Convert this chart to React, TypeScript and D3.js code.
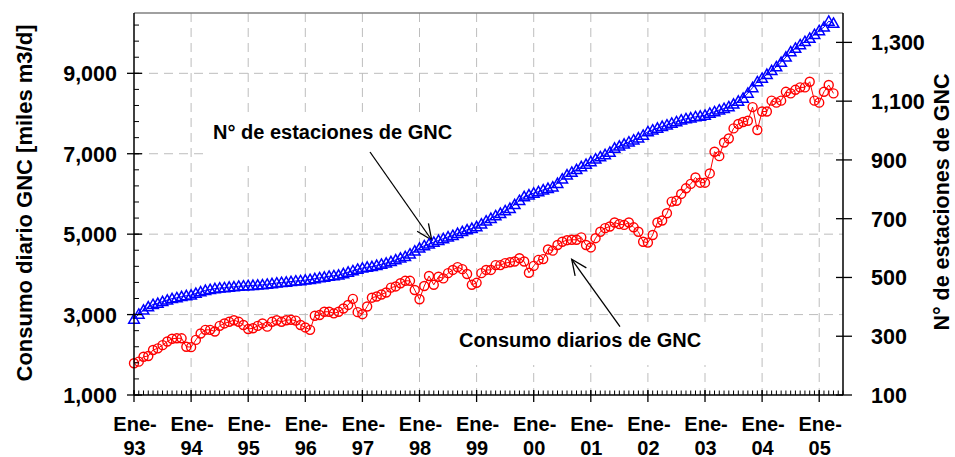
import React from 'react';
import * as d3 from 'd3';

// Categories: month index 0 = Ene-93 ... 147 = Abr-05
const yearLabels = ['93', '94', '95', '96', '97', '98', '99', '00', '01', '02', '03', '04', '05'];

// Consumo diario GNC [miles m3/d] (left axis), monthly
const consumo = [
  1790, 1830, 1950, 1970, 2120, 2160, 2240, 2330, 2400, 2410, 2410, 2200,
  2190, 2370, 2530, 2620, 2620, 2580, 2720, 2780, 2820, 2860, 2820, 2740,
  2640, 2660, 2720, 2780, 2700, 2820, 2860, 2820, 2860, 2870, 2850, 2740,
  2680, 2620, 2970, 2990, 3070, 3070, 3030, 3070, 3150, 3240, 3390, 3060,
  3010, 3200, 3420, 3450, 3500, 3550, 3670, 3700, 3780, 3840, 3840, 3610,
  3380, 3710, 3960, 3740, 3940, 3900, 4030, 4110, 4180, 4130, 4010, 3740,
  3790, 4030, 4110, 4110, 4230, 4230, 4280, 4300, 4320, 4400, 4320, 4040,
  4210, 4360, 4380, 4620, 4590, 4730, 4810, 4850, 4860, 4860, 4920, 4730,
  4670, 4900, 5060, 5150, 5190, 5290, 5250, 5230, 5290, 5170, 5060, 4810,
  4790, 4980, 5290, 5340, 5520, 5810, 5830, 6000, 6140, 6250, 6410, 6280,
  6280, 6510, 7050, 6940, 7280, 7380, 7630, 7740, 7790, 7820, 8160, 7590,
  8050, 8050, 8320, 8270, 8320, 8540, 8500, 8590, 8650, 8650, 8790, 8320,
  8270, 8540, 8710, 8500,
];

// N° de estaciones de GNC (right axis), monthly
const estaciones = [
  358, 375, 389, 400, 408, 412, 418, 423, 428, 431, 435, 438,
  440, 446, 451, 456, 459, 462, 464, 465, 467, 468, 470, 471,
  472, 473, 474, 475, 477, 479, 481, 483, 484, 486, 488, 489,
  491, 493, 496, 499, 501, 504, 506, 508, 513, 518, 523, 528,
  532, 535, 537, 541, 545, 549, 554, 560, 566, 571, 580, 590,
  600, 608, 614, 620, 626, 632, 638, 643, 650, 656, 662, 667,
  673, 682, 692, 701, 710, 718, 727, 735, 748, 762, 775, 781,
  787, 792, 798, 803, 808, 820, 835, 849, 858, 867, 877, 885,
  894, 903, 911, 918, 926, 940, 947, 954, 961, 968, 975, 984,
  996, 1002, 1008, 1014, 1019, 1025, 1030, 1036, 1040, 1043, 1047, 1049,
  1052, 1059, 1064, 1070, 1075, 1081, 1090, 1100, 1110, 1127, 1146, 1166,
  1178, 1191, 1204, 1217, 1232, 1250, 1268, 1280, 1292, 1303, 1314, 1327,
  1340, 1352, 1372, 1365,
];

const leftTicks = [1000, 3000, 5000, 7000, 9000];
const rightTicks = [100, 300, 500, 700, 900, 1100, 1300];

const FONT = '"Liberation Sans", Arial, sans-serif';

function arrowHead(tipX: number, tipY: number, fromX: number, fromY: number, len = 17, angDeg = 24) {
  const a = Math.atan2(fromY - tipY, fromX - tipX);
  const d = (angDeg * Math.PI) / 180;
  return [
    [tipX + len * Math.cos(a + d), tipY + len * Math.sin(a + d)],
    [tipX + len * Math.cos(a - d), tipY + len * Math.sin(a - d)],
  ];
}

export default function App() {
  const W = 955, H = 457;
  const L = 134, R = 843, T = 13, B = 395;
  const nMonths = 149;
  const x = d3.scaleLinear().domain([0, nMonths]).range([L, R]);
  const yL = d3.scaleLinear().domain([1000, 10500]).range([B, T]);
  const yR = d3.scaleLinear().domain([100, 1400]).range([B, T]);
  const fmt = d3.format(',');

  const consLine = d3.line<number>().x((_, i) => x(i)).y((d) => yL(d));
  const estLine = d3.line<number>().x((_, i) => x(i)).y((d) => yR(d));

  const minorLeft = d3.range(1000, 10500, 400);
  const monthTicks = d3.range(0, nMonths + 1);
  const yearTicks = yearLabels.map((_, k) => k * 12);

  const grid = '#bdbdbd';

  // annotation arrows
  const a1 = { x1: 370, y1: 152, x2: 431.7, y2: 240 };
  const a2 = { x1: 620, y1: 326.7, x2: 571.7, y2: 259.3 };
  const h1 = arrowHead(a1.x2, a1.y2, a1.x1, a1.y1);
  const h2 = arrowHead(a2.x2, a2.y2, a2.x1, a2.y1);

  return (
    <svg width={W} height={H} style={{ position: 'absolute', left: 0, top: 0, background: '#fff' }} fontFamily={FONT}>
      <rect x={0} y={0} width={W} height={H} fill="#fff" />
      {/* gridlines */}
      {yearTicks.slice(1).map((m) => (
        <line key={'gv' + m} x1={x(m)} x2={x(m)} y1={T} y2={B} stroke={grid} strokeWidth={1} strokeDasharray="9,6" />
      ))}
      {leftTicks.slice(1).map((v) => (
        <line key={'gh' + v} x1={L} x2={R} y1={yL(v)} y2={yL(v)} stroke={grid} strokeWidth={1} strokeDasharray="9,6" />
      ))}

      {/* annotation boxes */}
      <rect x={203} y={112} width={302} height={54} fill="#fff" />
      <rect x={452} y={323} width={262} height={42} fill="#fff" />
      <text x={213} y={139} fontSize={20} fontWeight="bold" fill="#000">N° de estaciones de GNC</text>
      <text x={459} y={346.5} fontSize={20} fontWeight="bold" fill="#000">Consumo diarios de GNC</text>

      {/* arrows */}
      <g stroke="#000" strokeWidth={1.3} fill="none">
        <line x1={a1.x1} y1={a1.y1} x2={a1.x2} y2={a1.y2} />
        <polyline points={`${h1[0][0]},${h1[0][1]} ${a1.x2},${a1.y2} ${h1[1][0]},${h1[1][1]}`} />
        <line x1={a2.x1} y1={a2.y1} x2={a2.x2} y2={a2.y2} />
        <polyline points={`${h2[0][0]},${h2[0][1]} ${a2.x2},${a2.y2} ${h2[1][0]},${h2[1][1]}`} />
      </g>

      {/* series: consumo (red circles) */}
      <path d={consLine(consumo) || ''} fill="none" stroke="#ff0000" strokeWidth={1} />
      {consumo.map((v, i) => (
        <circle key={'c' + i} cx={x(i)} cy={yL(v)} r={4.5} fill="none" stroke="#ff0000" strokeWidth={1.4} />
      ))}

      {/* series: estaciones (blue triangles) */}
      <path d={estLine(estaciones) || ''} fill="none" stroke="#0000ff" strokeWidth={1} />
      {estaciones.map((v, i) => (
        <path key={'t' + i} transform={`translate(${x(i)},${yR(v)})`} d="M0,-5.3 L5.3,4 L-5.3,4 Z" fill="none" stroke="#0000ff" strokeWidth={1.5} strokeLinejoin="miter" />
      ))}

      {/* frame */}
      <line x1={L} x2={R} y1={T} y2={T} stroke="#808080" strokeWidth={1.5} />
      <line x1={L} x2={L} y1={T} y2={B} stroke="#000" strokeWidth={1.5} />
      <line x1={R} x2={R} y1={T} y2={B} stroke="#000" strokeWidth={1.5} />
      <line x1={L} x2={R} y1={B} y2={B} stroke="#000" strokeWidth={1.5} />

      {/* left axis ticks */}
      {minorLeft.map((v) => (
        <line key={'ml' + v} x1={L} x2={L + 5} y1={yL(v)} y2={yL(v)} stroke="#000" strokeWidth={1} />
      ))}
      {leftTicks.map((v) => (
        <g key={'lt' + v}>
          <line x1={L - 7} x2={L + 8} y1={yL(v)} y2={yL(v)} stroke="#000" strokeWidth={1.3} />
          <text x={117} y={yL(v) + 8} textAnchor="end" fontSize={21.5} fontWeight="bold" fill="#000">{fmt(v)}</text>
        </g>
      ))}

      {/* right axis ticks */}
      {rightTicks.map((v) => (
        <g key={'rt' + v}>
          <line x1={R - 7} x2={R + 9} y1={yR(v)} y2={yR(v)} stroke="#000" strokeWidth={1.3} />
          <text x={871} y={yR(v) + 8} textAnchor="start" fontSize={21.5} fontWeight="bold" fill="#000">{fmt(v)}</text>
        </g>
      ))}

      {/* bottom axis ticks */}
      {monthTicks.map((m) => (
        <line key={'mt' + m} x1={x(m)} x2={x(m)} y1={B - 4.5} y2={B} stroke="#000" strokeWidth={1} />
      ))}
      {yearTicks.map((m, k) => (
        <g key={'yt' + m}>
          <line x1={x(m)} x2={x(m)} y1={B - 5} y2={B + 7} stroke="#000" strokeWidth={1.3} />
          <text x={x(m) + 1} y={431} textAnchor="middle" fontSize={20} fontWeight="bold" fill="#000">Ene-</text>
          <text x={x(m) + 0.5} y={454.5} textAnchor="middle" fontSize={20} fontWeight="bold" fill="#000">{yearLabels[k]}</text>
        </g>
      ))}

      {/* axis titles */}
      <text transform="translate(32,203) rotate(-90)" textAnchor="middle" fontSize={22} fontWeight="bold" fill="#000">Consumo diario GNC [miles m3/d]</text>
      <text transform="translate(949,202) rotate(-90)" textAnchor="middle" fontSize={21.5} fontWeight="bold" fill="#000">N° de estaciones de GNC</text>
    </svg>
  );
}
